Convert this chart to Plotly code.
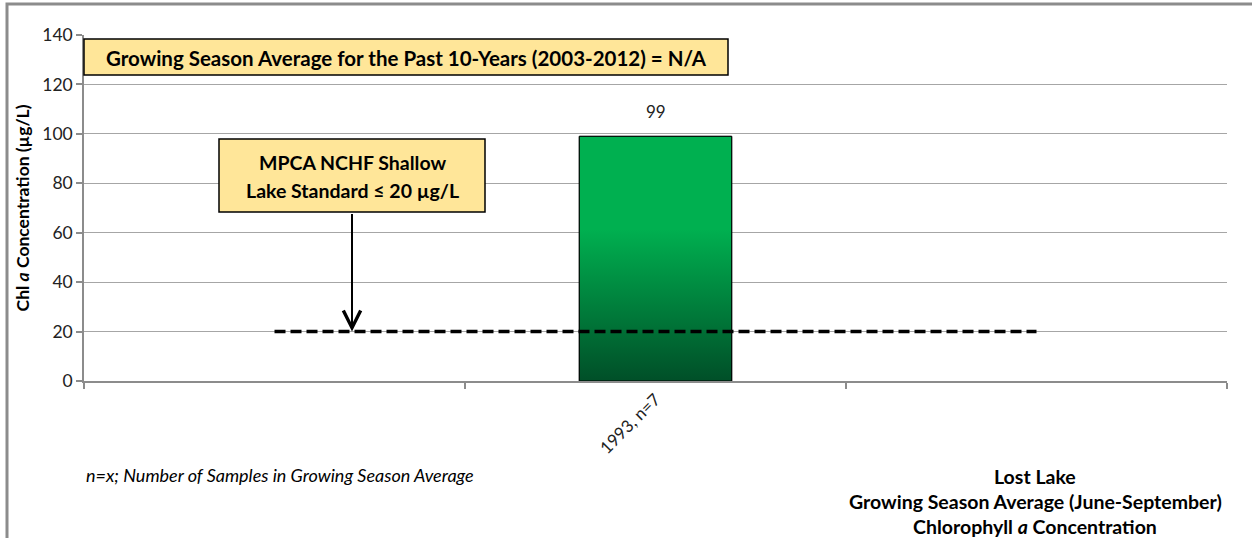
import plotly.graph_objects as go

# chart data
CATEGORIES = ["", "1993, n=7", ""]
CHL_A = [None, 99, None]
STANDARD = [20, 20, 20]
Y_TICKS = [0, 20, 40, 60, 80, 100, 120, 140]

TITLE_LINES = [
    "<b>Lost Lake</b>",
    "<b>Growing Season Average (June-September)</b>",
    "<b>Chlorophyll <i>a</i> Concentration</b>",
]
BOX_TEN_YEAR = "<b>Growing Season Average for the Past 10-Years (2003-2012) = N/A</b>"
BOX_STANDARD = ["<b>MPCA NCHF Shallow</b>", "<b>Lake Standard \u2264 20 \u00b5g/L</b>"]
FOOTNOTE = "<i>n=x; Number of Samples in Growing Season Average</i>"
Y_TITLE = "<b>Chl <i>a</i> Concentration (\u00b5g/L)</b>"

W, H = 1252, 538
L, R, T, B = 84, 1227, 35, 381
FONT = "Lato"
GRAY = "#8C8C8C"
BOX_FILL = "#FFE699"
BAR_W = 0.4


def px(x):
    return (x - L) / (R - L)


def py(y):
    return (B - y) / (B - T)


def label(text, x, y, size, **kw):
    return dict(text=text, xref="paper", yref="paper", x=px(x), y=py(y),
                xanchor="center", yanchor="middle", showarrow=False,
                font=dict(family=FONT, size=size, color="black"), **kw)


idx = list(range(len(CATEGORIES)))
annotations = []

fig = go.Figure()
fig.add_trace(go.Bar(
    x=idx, y=CHL_A, width=BAR_W,
    marker=dict(color="#00B050", line=dict(color="black", width=1)),
    showlegend=False, hoverinfo="skip",
))

# gradient fill on top of the bar
for i, v in zip(idx, CHL_A):
    if v is None:
        continue
    x0, x1 = i - BAR_W / 2, i + BAR_W / 2
    fig.add_trace(go.Scatter(
        x=[x0, x0, x1, x1, x0], y=[0, v, v, 0, 0],
        mode="lines", fill="toself",
        fillgradient=dict(type="vertical",
                          colorscale=[[0, "#004F28"], [0.62, "#00B050"], [1, "#00B050"]]),
        line=dict(color="black", width=1),
        showlegend=False, hoverinfo="skip",
    ))
    annotations.append(dict(x=i, y=v, text=str(v), showarrow=False, yshift=25,
                            font=dict(family=FONT, size=17, color="#222")))

fig.add_trace(go.Scatter(
    x=idx, y=STANDARD, mode="lines",
    line=dict(color="black", width=3.5, dash="11px,5px"),
    showlegend=False, hoverinfo="skip",
))

fig.update_xaxes(
    range=[-0.5, len(CATEGORIES) - 0.5],
    tickmode="array", tickvals=idx, ticktext=CATEGORIES, ticks="",
    tickangle=-45, tickfont=dict(family=FONT, size=17, color="#222"),
    showgrid=False, zeroline=False,
    showline=True, linecolor=GRAY, linewidth=1.5,
    minor=dict(tickmode="array", tickvals=[i - 0.5 for i in idx] + [idx[-1] + 0.5],
               ticks="outside", ticklen=6, tickcolor=GRAY, tickwidth=1.5, showgrid=False),
)
fig.update_yaxes(
    range=[0, 140], tickmode="array", tickvals=Y_TICKS,
    ticks="outside", ticklen=6, tickcolor=GRAY, tickwidth=1.5,
    tickfont=dict(family=FONT, size=17.5, color="#222"),
    showgrid=True, gridcolor="#A6A6A6", gridwidth=1,
    zeroline=False, showline=True, linecolor=GRAY, linewidth=1.5,
    title=dict(text=Y_TITLE, standoff=8, font=dict(family=FONT, size=17.5, color="black")),
    automargin=False,
)

shapes = [
    # outer chart frame
    dict(type="rect", xref="paper", yref="paper",
         x0=px(7), x1=px(1300), y0=py(4), y1=py(600),
         line=dict(color=GRAY, width=3), fillcolor="rgba(0,0,0,0)", layer="below"),
    dict(type="rect", xref="paper", yref="paper",
         x0=px(84), x1=px(728), y0=py(75), y1=py(39),
         line=dict(color="black", width=1.5), fillcolor=BOX_FILL),
    dict(type="rect", xref="paper", yref="paper",
         x0=px(219), x1=px(485), y0=py(212), y1=py(139),
         line=dict(color="black", width=1.5), fillcolor=BOX_FILL),
]

annotations += [
    label(BOX_TEN_YEAR, 406, 58, 20.5),
    dict(text=FOOTNOTE, xref="paper", yref="paper", x=0, y=py(475),
         xanchor="left", yanchor="middle", showarrow=False,
         font=dict(family=FONT, size=18, color="black")),
    # arrow from the standard box down to the standard line
    dict(text="", xref="paper", yref="y", x=px(352), y=STANDARD[0], ax=0, ay=-119,
         showarrow=True, arrowhead=5, arrowsize=1.7, arrowwidth=2, arrowcolor="black"),
]
for k, line in enumerate(BOX_STANDARD):
    annotations.append(label(line, 352, 162 + 28 * k, 19.5))
for k, line in enumerate(TITLE_LINES):
    annotations.append(label(line, 1035, 476 + 25 * k, 19.5))

fig.update_layout(
    width=W, height=H,
    margin=dict(l=L, r=W - R, t=T, b=H - B),
    plot_bgcolor="white", paper_bgcolor="white",
    showlegend=False,
    shapes=shapes, annotations=annotations,
)

# drop the browser's default page margin so the figure sits at the window origin
fig.write_html("out.html", config={"displayModeBar": False},
               post_script="document.body.style.margin = '0';")
